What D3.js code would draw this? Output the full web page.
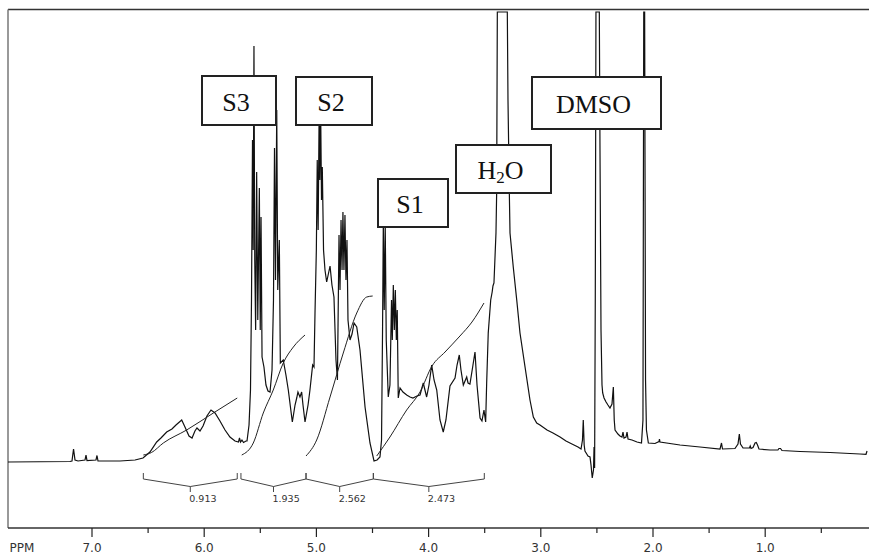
<!DOCTYPE html>
<style>
body { margin: 0; background: #fff; }
svg { display: block; background: #fff; }
.spec { fill: none; stroke: #111; stroke-width: 1.2; }
.integ { fill: none; stroke: #222; stroke-width: 1; }
.bracket { fill: none; stroke: #444; stroke-width: 1; }
.intlabel { font-family: "DejaVu Sans", sans-serif; font-size: 9.5px; fill: #333; }
.lbox rect { fill: #fff; stroke: #222; stroke-width: 2; }
.lbox text { font-family: "Liberation Serif", "Times New Roman", serif; font-size: 26px; fill: #111; }
.frame { stroke: #333; stroke-width: 1.5; }
.frame.left { stroke: #777; }
.axis path { display: none; }
.axis line { stroke: #222; stroke-width: 1.2; }
.axis text, .ppm { font-family: "DejaVu Sans", sans-serif; font-size: 12px; fill: #333; }
</style>
<svg width="869" height="557"></svg>
<script src="https://d3js.org/d3.v7.min.js"></script>
<script>

// chemical shift (ppm), intensity (arbitrary units)
var specAromatic = [[7.744,0],[7.192,0.5],[7.174,1],[7.160,13],[7.147,2],[7.120,1],[7.058,2],[7.049,7],[7.040,1.5],
  [6.960,2],[6.951,6.5],[6.942,1],[6.746,1],[6.612,2],[6.541,4],[6.479,10],[6.419,20],[6.381,24],[6.330,30],
  [6.283,33],[6.247,37],[6.196,42],[6.167,35],[6.131,26],[6.104,24],[6.078,31],[6.060,34],[6.033,31],[6.006,36],
  [5.971,46],[5.935,52],[5.899,49],[5.855,41],[5.810,32],[5.766,25],[5.721,21],[5.690,20],[5.681,24],[5.672,20],
  [5.659,22],[5.645,19.5],[5.623,21]];
var specS3 = [[5.614,21],[5.596,37],[5.583,72],[5.574,162],[5.565,322],[5.559,212],[5.552,416],[5.545,202],
  [5.537,132],[5.528,290],[5.518,142],[5.504,274],[5.496,132],[5.489,245],[5.480,105],[5.463,95],[5.445,77],
  [5.427,71],[5.409,70],[5.391,92],[5.378,162],[5.369,314],[5.360,182],[5.349,352],[5.340,172],[5.326,222],
  [5.317,99],[5.291,102],[5.267,87],[5.246,72],[5.210,40],[5.186,57],[5.171,64],[5.160,70],[5.142,65],[5.127,70],
  [5.115,57],[5.097,40],[5.070,57],[5.053,72],[5.029,97],[5.017,95]];
var specS2 = [[5.008,149],[4.996,212],[4.988,302],[4.980,232],[4.971,352],[4.965,282],[4.958,357],[4.950,262],
  [4.943,295],[4.932,212],[4.919,192],[4.904,180],[4.874,196],[4.857,177],[4.839,165],[4.821,102],[4.808,82],
  [4.794,227],[4.785,172],[4.776,242],[4.767,192],[4.759,250],[4.750,192],[4.741,247],[4.732,182],[4.723,222],
  [4.714,142],[4.696,122],[4.678,128],[4.660,139],[4.636,135],[4.607,112],[4.562,55],[4.518,19],[4.482,1],
  [4.455,2],[4.429,5]];
var specS1 = [[4.415,22],[4.406,132],[4.399,242],[4.391,152],[4.382,237],[4.373,122],[4.355,65],[4.340,77],
  [4.326,162],[4.319,122],[4.310,177],[4.301,132],[4.292,172],[4.283,122],[4.275,152],[4.266,64],[4.250,74],
  [4.224,70],[4.191,67],[4.161,65],[4.135,64],[4.099,66],[4.072,67],[4.043,79],[4.013,65],[3.992,77],[3.968,97],
  [3.947,82],[3.923,72],[3.894,42],[3.865,30],[3.841,42],[3.805,76],[3.760,84],[3.742,97],[3.722,107],[3.707,92],
  [3.686,77],[3.656,85],[3.644,79],[3.627,78],[3.600,97],[3.582,110],[3.564,77],[3.537,44],[3.520,41],[3.502,52],
  [3.487,40]];
var specWater = [[3.478,79],[3.464,129],[3.442,162],[3.429,170],[3.422,176],[3.413,179],[3.395,229],[3.389,269],
  [3.383,450],[3.294,450],[3.288,362],[3.276,269],[3.270,229],[3.241,195],[3.210,162],[3.181,129],[3.136,95],
  [3.092,62],[3.062,45],[3.032,39],[3.003,37],[2.940,32],[2.887,29],[2.824,25],[2.771,21],[2.718,18],[2.664,15],
  [2.637,13],[2.624,22],[2.617,42],[2.609,17],[2.602,11],[2.586,8],[2.575,6],[2.557,5],[2.548,-3],[2.537,-16],
  [2.526,-8],[2.521,15],[2.516,-6],[2.510,162]];
var specDmso = [[2.504,450],[2.474,450],[2.468,312],[2.459,132],[2.450,77],[2.444,69],[2.432,64],[2.414,60],
  [2.397,57],[2.379,54],[2.361,58],[2.349,75],[2.341,42],[2.334,32],[2.308,28],[2.290,26],[2.272,25],[2.263,30],
  [2.254,24],[2.236,25],[2.227,30],[2.218,23],[2.183,22],[2.138,20],[2.098,19],[2.085,42],[2.078,450],[2.070,450],
  [2.062,82],[2.054,32],[2.037,19]];
var specAliphatic = [[1.978,18.5],[1.942,20.5],[1.938,23],[1.933,20],[1.755,17],[1.577,15],[1.398,13],[1.385,19],
  [1.376,13],[1.265,13.5],[1.238,18],[1.226,28],[1.216,18],[1.193,14],[1.136,14],[1.129,16],[1.122,13.5],
  [1.104,14.5],[1.086,19],[1.075,19.5],[1.064,17],[1.051,13],[0.953,12],[0.882,12],[0.873,13.5],[0.859,13.5],
  [0.846,11.5],[0.685,10.5],[0.418,9.5],[0.151,8],[0.097,7.7],[0.088,11]];

// integral curves
var int1 = [[6.538,7],[6.465,9.5],[6.360,19],[6.152,32],[5.914,49],[5.701,64]];
var int2 = [[5.661,7],[5.558,19],[5.469,49],[5.380,72],[5.291,99],[5.201,115],[5.097,127]];
var int3 = [[5.088,6],[4.993,22],[4.874,65],[4.756,109],[4.636,149],[4.547,165],[4.494,166]];
var int4 = [[4.458,6],[4.340,25],[4.191,52],[4.072,70],[3.965,96],[3.849,110],[3.716,126],[3.609,140],[3.502,159]];

var intRanges = [[6.538,5.701],[5.668,5.088],[5.088,4.488],[4.488,3.499]];
var intValues = ["0.913","1.935","2.562","2.473"];

var majorTicks = [7,6,5,4,3,2,1];
var minorTicks = [6.5,5.5,4.5,3.5,2.5,1.5,0.5];

var labelBoxes = [
  {name: "S3",   x: 202, y: 76,  w: 74,  h: 49},
  {name: "S2",   x: 296, y: 77,  w: 76,  h: 48},
  {name: "S1",   x: 378, y: 179, w: 70,  h: 48},
  {name: "H2O",  x: 456, y: 145, w: 95,  h: 48},
  {name: "DMSO", x: 532, y: 77,  w: 129, h: 52}
];

var svg = d3.select('svg');

var x = d3.scaleLinear()
    .domain([7, 1])
    .range([91.5, 764.7]);

var y = d3.scaleLinear()
    .domain([0, 450])
    .range([462, 12]);

var line = d3.line()
    .x(function(d){ return x(d[0]) })
    .y(function(d){ return y(d[1]) });

var smooth = d3.line()
    .x(function(d){ return x(d[0]) })
    .y(function(d){ return y(d[1]) })
    .curve(d3.curveMonotoneX);

// frame
svg.append('line').attr('class','frame').attr('x1',8).attr('x2',869).attr('y1',9.5).attr('y2',9.5);
svg.append('line').attr('class','frame left').attr('x1',8).attr('x2',8).attr('y1',9.5).attr('y2',528);
svg.append('line').attr('class','frame').attr('x1',8).attr('x2',869).attr('y1',528).attr('y2',528);

// spectrum
var spectrum = [].concat(specAromatic, specS3, specS2, specS1, specWater, specDmso, specAliphatic);
svg.append('path')
   .datum(spectrum)
   .attr('class','spec')
   .attr('d', line);

// integrals
svg.selectAll('.integ')
   .data([int1, int2, int3, int4])
   .enter()
   .append('path')
   .attr('class','integ')
   .attr('d', smooth);

// integral brackets
var brackets = svg.selectAll('.bracket')
   .data(intRanges)
   .enter()
   .append('path')
   .attr('class','bracket')
   .attr('d', function(d){
     var x0 = x(d[0]), x1 = x(d[1]), xm = (x0 + x1) / 2;
     var p = d3.path();
     p.moveTo(x0, 473); p.lineTo(x0, 479); p.lineTo(xm, 486.5); p.lineTo(x1, 479); p.lineTo(x1, 473);
     p.moveTo(xm, 486.5); p.lineTo(xm, 492);
     return p.toString();
   });

svg.selectAll('.intlabel')
   .data(intRanges)
   .enter()
   .append('text')
   .attr('class','intlabel')
   .attr('x', function(d){ return (x(d[0]) + x(d[1])) / 2 - 1 })
   .attr('y', 502)
   .text(function(d,i){ return intValues[i] });

// axis
var axisMajor = svg.append('g')
   .attr('class','axis')
   .attr('transform','translate(0,528)')
   .call(d3.axisBottom(x).tickValues(majorTicks).tickSize(9).tickSizeOuter(0).tickFormat(d3.format('.1f')));
axisMajor.selectAll('text').attr('y', 15).attr('dy','0.71em');

svg.append('g')
   .attr('class','axis')
   .attr('transform','translate(0,528)')
   .call(d3.axisBottom(x).tickValues(minorTicks).tickSize(5).tickSizeOuter(0).tickFormat(''));

svg.append('text').attr('class','ppm').attr('x',9.5).attr('y',552).text('PPM');

// peak label boxes
var boxes = svg.selectAll('.lbox')
   .data(labelBoxes)
   .enter()
   .append('g')
   .attr('class','lbox');

boxes.append('rect')
   .attr('x', function(d){ return d.x })
   .attr('y', function(d){ return d.y })
   .attr('width', function(d){ return d.w })
   .attr('height', function(d){ return d.h });

boxes.append('text')
   .attr('text-anchor','middle')
   .attr('x', function(d){ return d.x + d.w / 2 - 3 })
   .attr('y', function(d){ return d.y + d.h / 2 + 10 })
   .each(function(d){
     var t = d3.select(this);
     if (d.name == "H2O") {
       t.append('tspan').text('H');
       t.append('tspan').attr('dy', 4).style('font-size','17px').text('2');
       t.append('tspan').attr('dy', -4).text('O');
     } else {
       t.text(d.name);
     }
   });

</script>
